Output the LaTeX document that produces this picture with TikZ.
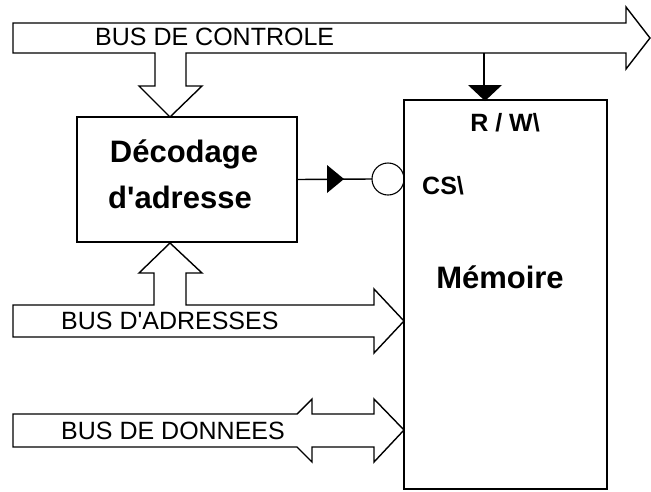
\documentclass[tikz,border=0pt]{standalone}
\usepackage{fontspec}
\setmainfont{Liberation Sans}
\begin{document}
\begin{tikzpicture}[x=1pt,y=-1pt,
  line join=miter,
  ln/.style={line width=1.4pt},
  box/.style={draw, line width=1.4pt, inner sep=0pt, outer sep=0pt},
  buslabel/.style={inner sep=0pt, anchor=base west, font=\fontsize{25}{25}\selectfont},
  boldlabel/.style={inner sep=0pt, anchor=base, font=\bfseries\fontsize{31}{31}\selectfont},
  pinlabel/.style={inner sep=0pt, font=\bfseries\fontsize{25}{25}\selectfont}]
\useasboundingbox (0,0) rectangle (651,491);
% boxes
\node[box, minimum width=220pt, minimum height=125pt] (dec) at (187,179.5) {};
\node[box, minimum width=203pt, minimum height=389pt] (mem) at (505.5,294.5) {};
\node[draw, circle, line width=1.1pt, minimum size=32pt, inner sep=0pt, outer sep=0pt] (cs) at (388,179) {};
% control bus
\draw[ln] (13,23) -- (626,23) -- (626,7) -- (650,38) -- (626,69) -- (626,53)
  -- (186,53) -- (186,86) -- (202,86) -- (170,117) -- (139,86) -- (155,86)
  -- (155,53) -- (13,53) -- cycle;
% address bus
\draw[ln] (13,305) -- (154,305) -- (154,273) -- (139,273) -- (170,243) -- (202,273)
  -- (186,273) -- (186,305) -- (374,305) -- (374,289) -- (404,321) -- (374,353)
  -- (374,337) -- (13,337) -- cycle;
% data bus
\draw[ln] (13,414) -- (297,414) -- (312,399) -- (312,414) -- (374,414) -- (374,399)
  -- (404,430) -- (374,462) -- (374,447) -- (312,447) -- (312,462) -- (297,447)
  -- (13,447) -- cycle;
% R/W connector
\coordinate (rw) at (484,53);
\draw[ln] (rw) -- (rw |- mem.north);
\fill (468,85) -- (502,85) -- (485,101) -- cycle;
% CS connector
\draw[ln] (dec.east) -- (cs.west);
\fill (327,165) -- (344,179) -- (327,193) -- cycle;
% labels
\node[buslabel] (lctl) at (95,45) {BUS DE CONTROLE};
\node[buslabel] (ladr) at (61,329) {BUS D\textquotesingle ADRESSES};
\node[buslabel] (ldat) at (61,439) {BUS DE DONNEES};
\node[boldlabel] (ldec1) at (184,162) {Décodage};
\node[boldlabel] (ldec2) at (180,208) {d\textquotesingle adresse};
\node[boldlabel] (lmem) at (500,288) {Mémoire};
\node[pinlabel, anchor=base] (lrw) at (505,131) {R / W\textbackslash};
\node[pinlabel, anchor=base west] (lcs) at (422,194) {CS\textbackslash};
\end{tikzpicture}
\end{document}
